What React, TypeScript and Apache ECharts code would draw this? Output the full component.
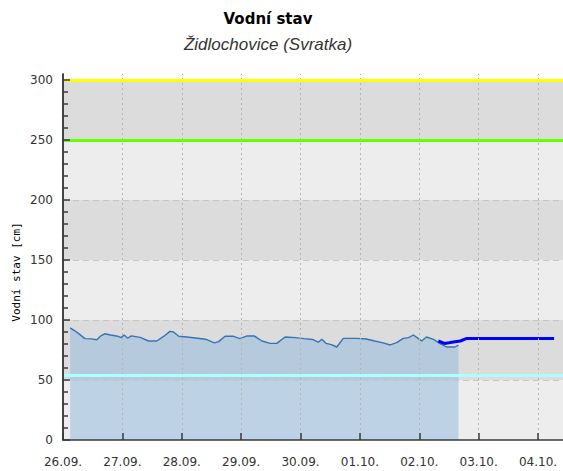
import React, { useEffect, useRef } from "react";
import * as echarts from "echarts";

// Day offsets from 26.09. 00:00
const xTickValues = [0, 1, 2, 3, 4, 5, 6, 7, 8];
const xTickLabels = ["26.09.", "27.09.", "28.09.", "29.09.", "30.09.", "01.10.", "02.10.", "03.10.", "04.10."];
const yMajorTicks = [0, 50, 100, 150, 200, 250, 300];
const yMinorTicks = [10, 20, 30, 40, 60, 70, 80, 90, 110, 120, 130, 140, 160, 170, 180, 190, 210, 220, 230, 240, 260, 270, 280, 290];
const gridYLines = [50, 100, 150, 200];

const obsDays = [0.12, 0.2, 0.28, 0.37, 0.48, 0.57, 0.63, 0.7, 0.8, 0.92, 0.98, 1.03, 1.09, 1.15, 1.3, 1.44, 1.58, 1.7, 1.8, 1.86, 1.95, 2.08, 2.23, 2.4, 2.55, 2.62, 2.73, 2.86, 2.98, 3.1, 3.22, 3.35, 3.49, 3.6, 3.74, 3.91, 4.06, 4.2, 4.3, 4.36, 4.43, 4.52, 4.61, 4.72, 4.95, 5.11, 5.25, 5.39, 5.51, 5.62, 5.73, 5.82, 5.9, 5.98, 6.04, 6.12, 6.24, 6.35, 6.46, 6.6, 6.66];
const obsLevels = [93.5, 91, 88, 84.5, 84.3, 83.5, 86.5, 88.5, 87.5, 86.5, 85.3, 87.5, 84.8, 86.8, 85.5, 82.5, 82.5, 86.5, 90.5, 90, 86.5, 85.8, 85, 84, 81, 82, 86.5, 86.5, 84.5, 86.7, 86.7, 82.5, 80.5, 80.5, 85.8, 85.3, 84.5, 83.8, 81.5, 84, 80.5, 79.5, 77.5, 84.7, 84.7, 84.2, 82.5, 80.9, 79.2, 81.2, 84.7, 85.3, 87.5, 84.7, 82.5, 85.8, 83.9, 80.3, 77.5, 77.5, 79];

const fcDays = [6.32, 6.42, 6.5, 6.6, 6.69, 6.79, 8.27];
const fcLevels = [82.5, 80.5, 81, 81.8, 82.5, 84.5, 84.5];

const bandEdges = [0, 50, 100, 150, 200, 250, 300];
const bandColors = ["#ededed", "#dcdcdc"];

const thresholds = [300, 250, 54];
const thresholdColors = ["#ffff00", "#66ff00", "#aaffff"];

export default function App() {
  const ref = useRef<HTMLDivElement>(null);
  useEffect(() => {
    document.body.style.margin = "0";
    const chart = echarts.init(ref.current!, null, { renderer: "svg" });
    const bands = bandEdges.slice(0, -1).map((v, i) => [
      { yAxis: v, itemStyle: { color: bandColors[i % 2] } },
      { yAxis: bandEdges[i + 1] },
    ]);
    const gridLines: any[] = [
      ...xTickValues.slice(1).map((v) => ({
        xAxis: v,
        lineStyle: { color: "#b4b4b4", width: 1, type: [2, 3] },
      })),
      ...gridYLines.map((v) => ({
        yAxis: v,
        lineStyle: { color: "#c6c6c6", width: 1, type: [6, 4] },
      })),
    ];
    const font = "DejaVu Sans";
    const axisColor = "#3a3a3a";
    chart.setOption({
      animation: false,
      grid: { left: 63, right: 0, top: 74, bottom: 31 },
      xAxis: {
        type: "value",
        z: 10,
        min: 0,
        max: 8.42,
        axisLine: { show: true, lineStyle: { color: axisColor, width: 1.5 } },
        axisTick: { show: true, inside: true, length: 7, customValues: xTickValues, lineStyle: { color: axisColor, width: 1.5 } },
        axisLabel: {
          customValues: xTickValues,
          formatter: (v: number) => xTickLabels[Math.round(v)] ?? "",
          fontFamily: font,
          fontSize: 12,
          color: "#333",
          margin: 16,
        },
        splitLine: { show: false },
      },
      yAxis: [
        {
          type: "value",
          z: 10,
          min: 0,
          max: 305,
          axisLine: { show: true, lineStyle: { color: axisColor, width: 1.5 } },
          axisTick: { show: true, inside: true, length: 7, customValues: yMajorTicks, lineStyle: { color: axisColor, width: 1.5 } },
          axisLabel: { customValues: yMajorTicks, fontFamily: font, fontSize: 12, color: "#333", margin: 10 },
          splitLine: { show: false },
        },
        {
          type: "value",
          z: 10,
          min: 0,
          max: 305,
          position: "left",
          axisLine: { show: true, lineStyle: { color: axisColor, width: 1.5 } },
          axisTick: { show: true, inside: true, length: 5, customValues: yMinorTicks, lineStyle: { color: axisColor, width: 1.5 } },
          axisLabel: { show: false },
          splitLine: { show: false },
        },
      ],
      graphic: [
        {
          type: "text",
          x: 268,
          y: 11,
          style: { text: "Vodní stav", font: "bold 15px 'DejaVu Sans'", fill: "#000", textAlign: "center", textVerticalAlign: "top" },
        },
        {
          type: "text",
          x: 268,
          y: 36,
          style: { text: "Židlochovice (Svratka)", font: "italic 17px 'Liberation Sans'", fill: "#333", textAlign: "center", textVerticalAlign: "top" },
        },
        {
          type: "text",
          x: 16,
          y: 272,
          rotation: Math.PI / 2,
          style: { text: "Vodní stav [cm]", font: "11px 'DejaVu Sans Mono'", fill: "#000", textAlign: "center", textVerticalAlign: "middle" },
        },
      ],
      series: [
        {
          type: "line",
          data: [],
          z: 1,
          silent: true,
          markArea: { silent: true, data: bands },
          markLine: { silent: true, symbol: "none", label: { show: false }, data: gridLines },
        },
        {
          name: "observed",
          type: "line",
          z: 3,
          showSymbol: false,
          data: obsDays.map((d, i) => [d, obsLevels[i]]),
          lineStyle: { color: "#3674b0", width: 1.4 },
          itemStyle: { color: "#3674b0" },
          areaStyle: { color: "rgba(140,182,224,0.68)" },
        },
        {
          name: "forecast",
          type: "line",
          z: 4,
          showSymbol: false,
          data: fcDays.map((d, i) => [d, fcLevels[i]]),
          lineStyle: { color: "#0000ff", width: 3 },
          itemStyle: { color: "#0000ff" },
        },
        {
          type: "line",
          data: [],
          z: 5,
          silent: true,
          markLine: {
            silent: true,
            symbol: "none",
            label: { show: false },
            data: thresholds.map((v, i) => ({ yAxis: v, lineStyle: { color: thresholdColors[i], width: 3, type: "solid" } })),
          },
        },
      ],
    });
    return () => chart.dispose();
  }, []);
  return <div ref={ref} style={{ width: 563, height: 471 }} />;
}
